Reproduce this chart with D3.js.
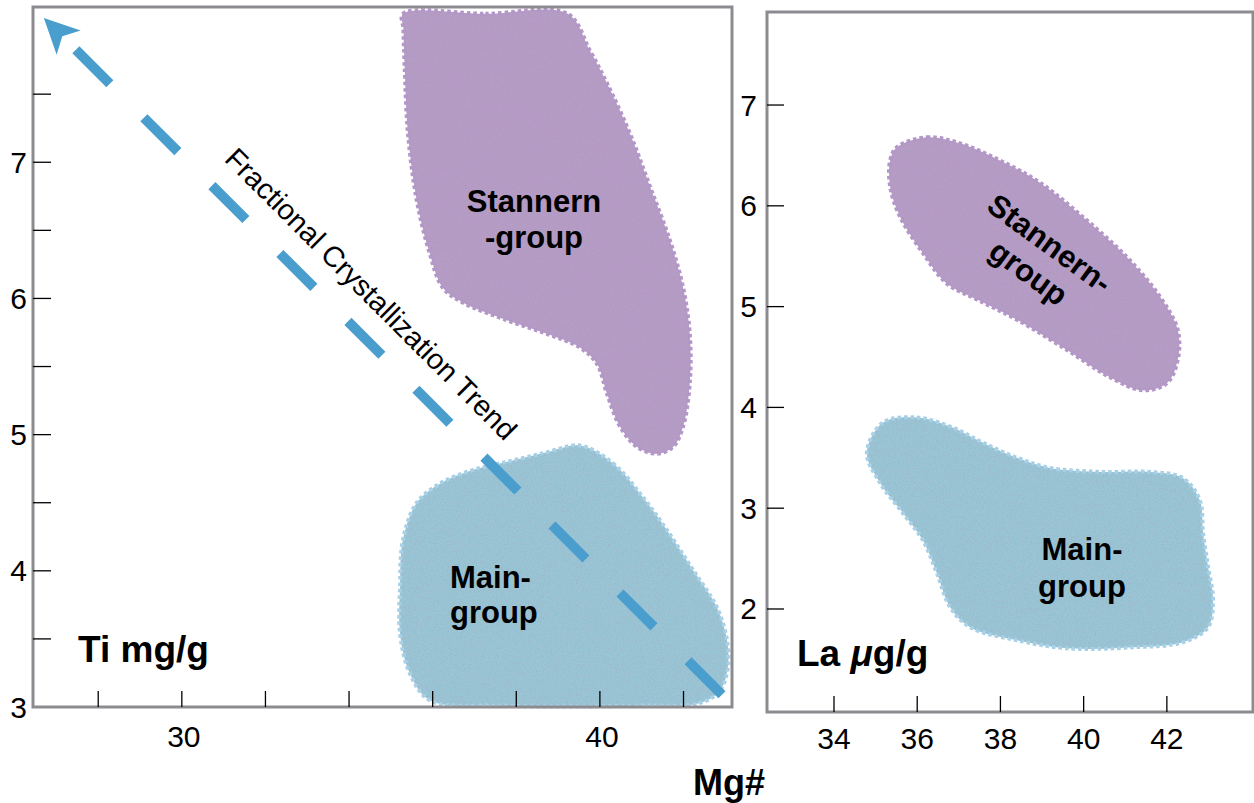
<!DOCTYPE html>
<html>
<head>
<meta charset="utf-8">
<script src="https://cdn.jsdelivr.net/npm/d3@7"></script>
<style>
  body { margin: 0; background: #fff; }
  svg { display: block; font-family: "Liberation Sans", Arial, Helvetica, sans-serif; }
</style>
</head>
<body>
<svg id="chart"></svg>
<script>
// ticks
const leftXTicks = [28, 30, 32, 34, 36, 38, 40, 42];
const leftXLabels = [30, 40];
const leftYMajor = [3, 4, 5, 6, 7];
const leftYMinor = [3.5, 4.5, 5.5, 6.5, 7.5];
const rightXTicks = [34, 36, 38, 40, 42];
const rightYTicks = [2, 3, 4, 5, 6, 7];

// field outlines, [Mg#, Ti mg/g]
const stannernTi = [
  [35.29, 8.09], [37.26, 8.09], [39.23, 8.09], [39.76, 7.82], [40.17, 7.58], [40.72, 7.21],
  [41.20, 6.82], [41.67, 6.43], [41.99, 6.08], [42.15, 5.74], [42.15, 5.38],
  [41.99, 5.06], [41.75, 4.91], [41.36, 4.86], [40.89, 4.91], [40.48, 5.06],
  [40.17, 5.30], [39.93, 5.52], [39.52, 5.64], [38.73, 5.74], [37.78, 5.84],
  [36.72, 5.97], [36.24, 6.08], [35.93, 6.33], [35.62, 6.72], [35.41, 7.21],
  [35.33, 7.70], [35.30, 7.98]
];
const mainTi = [
  [39.52, 4.92], [40.31, 4.79], [41.03, 4.54], [41.60, 4.30], [42.22, 4.01],
  [42.80, 3.73], [43.04, 3.49], [43.06, 3.29], [42.87, 3.12], [42.39, 3.03],
  [40.96, 3.01], [37.61, 3.01], [35.93, 3.05], [35.45, 3.25], [35.22, 3.54],
  [35.22, 3.88], [35.29, 4.23], [35.62, 4.50], [36.17, 4.64], [36.96, 4.74],
  [37.92, 4.81], [38.73, 4.87]
];
// field outlines, [Mg#, La ug/g]
const stannernLa = [
  [35.51, 6.58], [36.23, 6.68], [37.03, 6.62], [37.99, 6.45], [38.95, 6.23],
  [39.98, 5.89], [41.04, 5.49], [41.83, 5.10], [42.26, 4.77], [42.26, 4.47],
  [42.00, 4.24], [41.42, 4.17], [40.63, 4.30], [39.60, 4.57], [38.40, 4.87],
  [37.44, 5.07], [36.71, 5.23], [36.14, 5.53], [35.59, 5.89], [35.35, 6.19],
  [35.35, 6.45]
];
const mainLa = [
  [35.18, 3.85], [35.99, 3.90], [36.79, 3.81], [37.58, 3.65], [38.40, 3.50],
  [39.19, 3.40], [40.39, 3.36], [41.59, 3.36], [42.38, 3.30], [42.79, 3.08],
  [42.87, 2.75], [42.99, 2.42], [43.11, 2.09], [42.99, 1.82], [42.38, 1.67],
  [41.18, 1.62], [39.60, 1.61], [38.40, 1.69], [37.27, 1.82], [36.79, 2.02],
  [36.47, 2.36], [36.14, 2.68], [35.66, 2.95], [35.11, 3.25], [34.79, 3.55]
];
// fractional crystallization trend, from low end to arrow tip
const trend = [[42.92, 3.09], [26.70, 8.06]];

const width = 1254, height = 803;
const purpleFill = '#b69cc6', purpleEdge = '#b597cb';
const blueFill = '#99c6d6', blueEdge = '#a8d5ec';
const arrowColor = '#4a9ecd';
const frameColor = '#8c8c90';

const svg = d3.select('#chart').attr('width', width).attr('height', height);
const defs = svg.append('defs');

defs.append('marker')
  .attr('id', 'head')
  .attr('markerUnits', 'userSpaceOnUse')
  .attr('viewBox', '-40 -20 44 40')
  .attr('markerWidth', 44).attr('markerHeight', 40)
  .attr('refX', 0).attr('refY', 0)
  .attr('orient', 'auto')
  .append('path')
  .attr('d', 'M0,0 L-35,-17 L-26,0 L-35,17 Z')
  .attr('fill', arrowColor);

// grainy fill like the original
const grain = defs.append('filter').attr('id', 'grain')
  .attr('x', '-2%').attr('y', '-2%').attr('width', '104%').attr('height', '104%');
grain.append('feTurbulence')
  .attr('type', 'fractalNoise').attr('baseFrequency', 0.85)
  .attr('numOctaves', 2).attr('seed', 4).attr('result', 'noise');
grain.append('feColorMatrix').attr('in', 'noise').attr('type', 'matrix')
  .attr('values', '0 0 0 0 0.35  0 0 0 0 0.3  0 0 0 0 0.4  0 0 0 0.9 -0.38')
  .attr('result', 'specks');
grain.append('feComposite').attr('in', 'specks').attr('in2', 'SourceGraphic')
  .attr('operator', 'in').attr('result', 'inside');
const merge = grain.append('feMerge');
merge.append('feMergeNode').attr('in', 'SourceGraphic');
merge.append('feMergeNode').attr('in', 'inside');

// scales
const xL = d3.scaleLinear().domain([26.44, 43.16]).range([33, 732]);
const yL = d3.scaleLinear().domain([3, 8.14]).range([707, 7]);
const xR = d3.scaleLinear().domain([32.39, 44.07]).range([767, 1253]);
const yR = d3.scaleLinear().domain([0.978, 7.923]).range([712, 12]);

function field(g, pts, x, y, fill, edge) {
  const line = d3.line()
    .x(d => x(d[0])).y(d => y(d[1]))
    .curve(d3.curveCatmullRomClosed.alpha(0.5));
  g.append('path')
    .attr('d', line(pts))
    .attr('fill', fill)
    .attr('stroke', edge)
    .attr('stroke-width', 4)
    .attr('stroke-dasharray', '3.5 3')
    .attr('filter', 'url(#grain)');
}

function label(g, lines, x, y, anchor, step) {
  const t = g.append('text')
    .attr('font-size', 31).attr('font-weight', 'bold')
    .attr('text-anchor', anchor).attr('fill', '#000');
  lines.forEach((s, i) => t.append('tspan').attr('x', x).attr('y', y + i * step).text(s));
  return t;
}

// left panel
const left = svg.append('g');
field(left, stannernTi, xL, yL, purpleFill, purpleEdge);
field(left, mainTi, xL, yL, blueFill, blueEdge);

left.append('path')
  .attr('d', d3.line().x(d => xL(d[0])).y(d => yL(d[1]))(trend))
  .attr('fill', 'none')
  .attr('stroke', arrowColor)
  .attr('stroke-width', 10)
  .attr('stroke-dasharray', '48 48.1')
  .attr('marker-end', 'url(#head)');

left.append('text')
  .attr('transform', 'translate(371,294) rotate(45)')
  .attr('text-anchor', 'middle')
  .attr('dominant-baseline', 'central')
  .attr('font-size', 29)
  .text('Fractional Crystallization Trend');

label(left, ['Stannern', '-group'], 534, 212, 'middle', 36);
label(left, ['Main-', 'group'], 450, 588, 'start', 35);

left.append('rect')
  .attr('x', xL.range()[0]).attr('y', yL.range()[1])
  .attr('width', xL.range()[1] - xL.range()[0])
  .attr('height', yL.range()[0] - yL.range()[1])
  .attr('fill', 'none').attr('stroke', frameColor).attr('stroke-width', 3);

left.selectAll('.ytick').data(leftYMajor.slice(1).concat(leftYMinor)).enter()
  .append('line')
  .attr('x1', xL.range()[0]).attr('x2', xL.range()[0] + 18)
  .attr('y1', d => yL(d)).attr('y2', d => yL(d))
  .attr('stroke', '#000').attr('stroke-width', 1.3);

left.selectAll('.ylab').data(leftYMajor).enter()
  .append('text')
  .attr('x', 27).attr('y', d => yL(d))
  .attr('text-anchor', 'end').attr('dominant-baseline', 'central')
  .attr('font-size', 30)
  .text(d => d);

left.selectAll('.xtick').data(leftXTicks).enter()
  .append('line')
  .attr('x1', d => xL(d)).attr('x2', d => xL(d))
  .attr('y1', yL.range()[0]).attr('y2', yL.range()[0] - 16)
  .attr('stroke', '#000').attr('stroke-width', 1.3);

left.selectAll('.xlab').data(leftXLabels).enter()
  .append('text')
  .attr('x', d => xL(d) + 2).attr('y', 736)
  .attr('text-anchor', 'middle').attr('dominant-baseline', 'central')
  .attr('font-size', 30)
  .text(d => d);

left.append('text')
  .attr('x', 78).attr('y', 662)
  .attr('font-size', 37).attr('font-weight', 'bold')
  .text('Ti mg/g');

// right panel
const right = svg.append('g');
field(right, stannernLa, xR, yR, purpleFill, purpleEdge);
field(right, mainLa, xR, yR, blueFill, blueEdge);

const st = right.append('g').attr('transform', 'translate(1040,257) rotate(36)');
label(st, ['Stannern-', 'group'], 0, -6, 'middle', 36);
label(right, ['Main-', 'group'], 1082, 560, 'middle', 37);

right.append('rect')
  .attr('x', xR.range()[0]).attr('y', yR.range()[1])
  .attr('width', xR.range()[1] - xR.range()[0])
  .attr('height', yR.range()[0] - yR.range()[1])
  .attr('fill', 'none').attr('stroke', frameColor).attr('stroke-width', 3);

right.selectAll('.ytick').data(rightYTicks).enter()
  .append('line')
  .attr('x1', xR.range()[0]).attr('x2', xR.range()[0] + 17)
  .attr('y1', d => yR(d)).attr('y2', d => yR(d))
  .attr('stroke', '#000').attr('stroke-width', 1.3);

right.selectAll('.ylab').data(rightYTicks).enter()
  .append('text')
  .attr('x', 757).attr('y', d => yR(d))
  .attr('text-anchor', 'end').attr('dominant-baseline', 'central')
  .attr('font-size', 30)
  .text(d => d);

right.selectAll('.xtick').data(rightXTicks).enter()
  .append('line')
  .attr('x1', d => xR(d)).attr('x2', d => xR(d))
  .attr('y1', yR.range()[0]).attr('y2', yR.range()[0] - 16)
  .attr('stroke', '#000').attr('stroke-width', 1.3);

right.selectAll('.xlab').data(rightXTicks).enter()
  .append('text')
  .attr('x', d => xR(d)).attr('y', 738)
  .attr('text-anchor', 'middle').attr('dominant-baseline', 'central')
  .attr('font-size', 30)
  .text(d => d);

const la = right.append('text')
  .attr('x', 797).attr('y', 666)
  .attr('font-size', 37).attr('font-weight', 'bold');
la.append('tspan').text('La ');
la.append('tspan').attr('font-style', 'italic').text('\u03bc');
la.append('tspan').text('g/g');

svg.append('text')
  .attr('x', 729).attr('y', 795)
  .attr('text-anchor', 'middle')
  .attr('font-size', 36).attr('font-weight', 'bold')
  .text('Mg#');
</script>
</body>
</html>
